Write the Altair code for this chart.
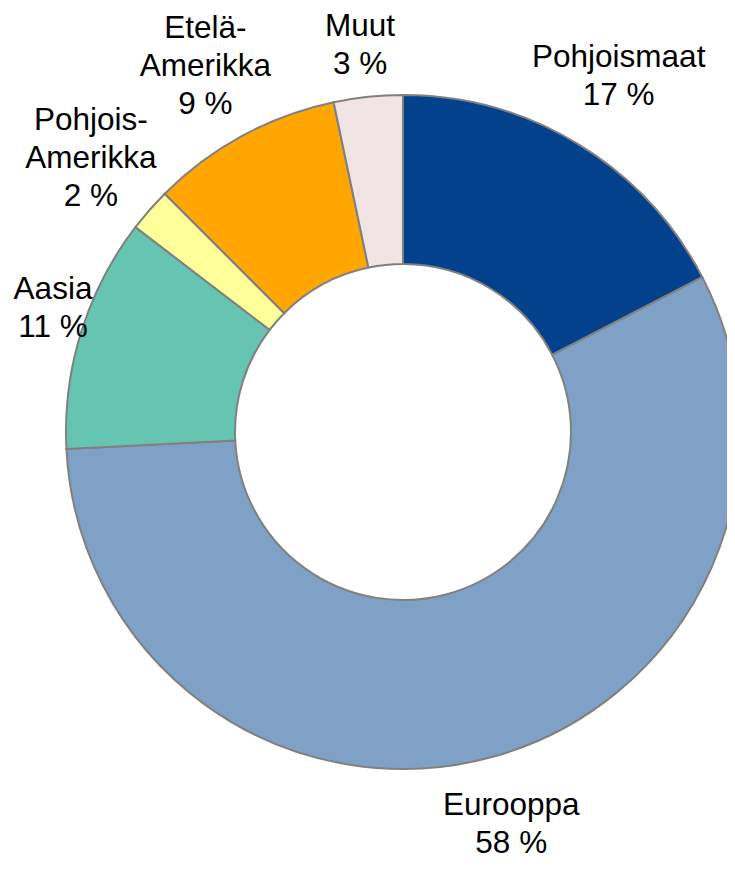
import altair as alt
import pandas as pd

names = ["Pohjoismaat", "Eurooppa", "Aasia", "Pohjois-\nAmerikka", "Etelä-\nAmerikka", "Muut"]
values = [17.4, 56.8, 11.2, 2.1, 9.2, 3.3]
pct_labels = ["17 %", "58 %", "11 %", "2 %", "9 %", "3 %"]
colors = ["#03418C", "#80A1C6", "#66C5B0", "#FFFF99", "#FFA600", "#F0E4E4"]

df = pd.DataFrame({
    "name": names,
    "value": values,
    "idx": list(range(len(names))),
    "label": [n + "\n" + p for n, p in zip(names, pct_labels)],
})
df["nl"] = df["label"].str.count("\n") + 1

W, H = 719, 856
cx, cy = 395, 424
R_OUT, R_IN = 337, 168
R_LAB = 415
LH = 38

arcs = alt.Chart(df).mark_arc(
    outerRadius=R_OUT, innerRadius=R_IN, stroke="#808080", strokeWidth=2
).encode(
    theta=alt.Theta("value:Q", stack=True),
    order=alt.Order("idx:Q"),
    color=alt.Color("name:N", scale=alt.Scale(domain=names, range=colors), legend=None),
    x=alt.value(cx),
    y=alt.value(cy),
)

texts = alt.Chart(df).transform_joinaggregate(
    total="sum(value)"
).transform_window(
    cum="sum(value)", sort=[alt.SortField("idx")], frame=[None, 0]
).transform_calculate(
    a="2*PI*(datum.cum - datum.value/2)/datum.total"
).transform_calculate(
    lx=f"clamp({cx} + {R_LAB}*sin(datum.a), 45, {W - 45})",
    ly=f"clamp({cy} - {R_LAB}*cos(datum.a) - (datum.nl - 1)*{LH}/2, 19, {H} - 20 - (datum.nl - 1)*{LH})",
).mark_text(
    font="Liberation Sans", fontSize=31.5, lineBreak="\n", lineHeight=LH,
    align="center", baseline="middle", color="black",
).encode(
    text="label:N",
    x=alt.X("lx:Q", scale=None, axis=None),
    y=alt.Y("ly:Q", scale=None, axis=None),
)

chart = alt.layer(arcs, texts).properties(
    width=W, height=H, autosize=alt.AutoSizeParams(type="none"), padding=0
).configure_view(stroke=None)

chart.save("out.html", embed_options={"renderer": "svg", "actions": False})
